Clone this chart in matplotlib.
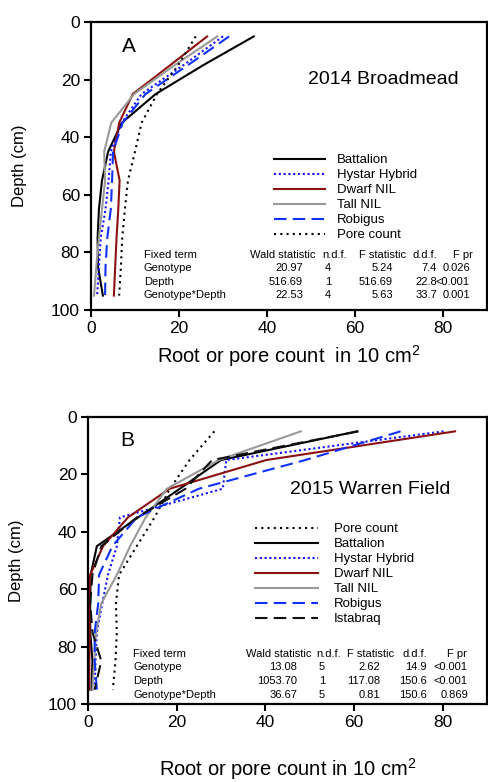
import matplotlib
matplotlib.use("Agg")
import matplotlib.pyplot as plt

plt.rcParams["font.family"] = ["Liberation Sans", "DejaVu Sans"]
plt.rcParams["mathtext.fontset"] = "custom"
plt.rcParams["mathtext.rm"] = "Liberation Sans"

# sampling depths (cm), same for both sites
DEPTH = [5, 15, 25, 35, 45, 55, 65, 75, 85, 95]

# panel A, 2014 Broadmead
A_BATTALION = [37.0, 25.5, 14.7, 7.0, 3.9, 2.5, 1.8, 1.5, 1.6, 2.7]
A_HYSTAR = [30.0, 21.0, 11.5, 7.0, 4.5, 4.0, 3.3, 2.2, 1.8, 1.4]
A_DWARF = [26.4, 18.0, 9.5, 6.4, 5.2, 6.5, 6.2, 5.8, 5.5, 5.2]
A_TALL = [28.7, 19.0, 9.8, 4.6, 3.0, 3.2, 2.5, 1.8, 1.2, 0.7]
A_ROBIGUS = [31.4, 22.0, 12.4, 7.2, 5.0, 4.8, 4.5, 3.7, 3.3, 3.2]
A_PORE = [23.8, 19.8, 15.0, 11.5, 10.0, 8.4, 7.7, 7.1, 6.8, 6.4]

# panel B, 2015 Warren Field
B_PORE = [28.5, 22.9, 18.5, 15.0, 11.0, 7.0, 6.3, 6.5, 6.2, 5.6]
B_BATTALION = [60.7, 30.0, 20.7, 11.3, 2.0, 0.6, 0.5, 0.5, 1.0, 0.8]
B_HYSTAR = [80.2, 31.2, 30.4, 7.2, 6.5, 4.5, 3.2, 2.0, 1.7, 1.5]
B_DWARF = [82.8, 40.2, 18.4, 9.0, 3.4, 0.5, 0.3, 0.4, 0.3, 0.3]
B_TALL = [48.0, 29.5, 17.8, 13.0, 9.5, 6.5, 3.0, 1.8, 1.4, 1.0]
B_ROBIGUS = [70.5, 49.0, 25.0, 11.0, 5.5, 2.5, 2.3, 1.5, 1.5, 2.0]
B_ISTABRAQ = [61.0, 28.0, 22.0, 11.0, 3.0, 1.0, 0.5, 1.0, 3.0, 1.5]

# Wald tables
TBL_HEAD = ["Fixed term", "Wald statistic", "n.d.f.", "F statistic", "d.d.f.", "F pr"]
TERMS = ["Genotype", "Depth", "Genotype*Depth"]
A_WALD = ["20.97", "516.69", "22.53"]
A_NDF = ["4", "1", "4"]
A_FSTAT = ["5.24", "516.69", "5.63"]
A_DDF = ["7.4", "22.8", "33.7"]
A_FPR = ["0.026", "<0.001", "0.001"]
B_WALD = ["13.08", "1053.70", "36.67"]
B_NDF = ["5", "1", "5"]
B_FSTAT = ["2.62", "117.08", "0.81"]
B_DDF = ["14.9", "150.6", "150.6"]
B_FPR = ["<0.001", "<0.001", "0.869"]

STY = {
    "Battalion": dict(color="black", ls="-"),
    "Hystar Hybrid": dict(color="#1010ff", ls=(0, (1, 1.3))),
    "Dwarf NIL": dict(color="#8b1010", ls="-"),
    "Tall NIL": dict(color="#999999", ls="-"),
    "Robigus": dict(color="#1030ff", ls=(0, (6, 3))),
    "Istabraq": dict(color="#111111", ls=(0, (6, 3))),
    "Pore count": dict(color="black", ls=(0, (1, 2))),
}

W, H = 488, 782
fig = plt.figure(figsize=(W / 100, H / 100), dpi=100)


def fx(px):
    return px / W


def fy(py):
    return 1 - py / H


def panel(left, top, bottom):
    ax = fig.add_axes([fx(left), fy(bottom), fx(487) - fx(left), fy(top) - fy(bottom)])
    ax.set_xlim(0, 90); ax.set_ylim(100, 0)
    ax.set_xticks([0, 20, 40, 60, 80]); ax.set_yticks([0, 20, 40, 60, 80, 100])
    ax.tick_params(direction="out", length=5, width=1.5, labelsize=12.5, pad=3)
    for s in ax.spines.values():
        s.set_linewidth(1.6)
    ax.set_ylabel("Depth (cm)", fontsize=12, labelpad=17)
    return ax


def table(xs, ys, wald, ndf, fst, ddf, fpr, hx):
    fs = 8
    fig.text(fx(xs[0]), fy(ys[0]), TBL_HEAD[0], fontsize=fs, va="center")
    for t, x, ha in zip(TBL_HEAD[1:], hx, ["right", "center", "right", "right", "right"]):
        fig.text(fx(x), fy(ys[0]), t, fontsize=fs, va="center", ha=ha)
    for i, term in enumerate(TERMS):
        y = fy(ys[i + 1])
        fig.text(fx(xs[0]), y, term, fontsize=fs, va="center")
        for col, x, ha in zip([wald, ndf, fst, ddf, fpr], xs[1:], ["right", "center", "right", "right", "right"]):
            fig.text(fx(x), y, col[i], fontsize=fs, va="center", ha=ha)


# ---- panel A
axA = panel(91, 22, 310)
for name, vals in [("Battalion", A_BATTALION), ("Hystar Hybrid", A_HYSTAR), ("Dwarf NIL", A_DWARF),
                   ("Tall NIL", A_TALL), ("Robigus", A_ROBIGUS), ("Pore count", A_PORE)]:
    axA.plot(vals, DEPTH, lw=1.5, label=name, **STY[name])
axA.set_xlabel("Root or pore count  in 10 cm$^{2}$", fontsize=14.5, labelpad=5)
axA.text(fx(122), fy(46), "A", transform=fig.transFigure, fontsize=15, va="center")
axA.text(fx(383), fy(80), "2014 Broadmead", transform=fig.transFigure, fontsize=14, va="center", ha="center")
axA.legend(loc="upper left", bbox_to_anchor=(fx(274), fy(154)), bbox_transform=fig.transFigure,
           frameon=False, fontsize=9.5, handlelength=3.9, handletextpad=0.9, labelspacing=0.21,
           borderpad=0, borderaxespad=0)
table([144, 303, 328, 393, 437, 470], [255, 268, 282, 295],
      A_WALD, A_NDF, A_FSTAT, A_DDF, A_FPR, [316, 335, 406, 437, 473])

# ---- panel B
axB = panel(88, 417, 704)
for name, vals in [("Pore count", B_PORE), ("Battalion", B_BATTALION), ("Hystar Hybrid", B_HYSTAR),
                   ("Dwarf NIL", B_DWARF), ("Tall NIL", B_TALL), ("Robigus", B_ROBIGUS),
                   ("Istabraq", B_ISTABRAQ)]:
    axB.plot(vals, DEPTH, lw=1.5, label=name, **STY[name])
axB.set_xlabel("Root or pore count in 10 cm$^{2}$", fontsize=14.5, labelpad=19)
axB.text(fx(120), fy(440), "B", transform=fig.transFigure, fontsize=15, va="center")
axB.text(fx(370), fy(490), "2015 Warren Field", transform=fig.transFigure, fontsize=14, va="center", ha="center")
axB.legend(loc="upper left", bbox_to_anchor=(fx(255), fy(523)), bbox_transform=fig.transFigure,
           frameon=False, fontsize=9.5, handlelength=4.8, handletextpad=1.2, labelspacing=0.21,
           borderpad=0, borderaxespad=0)
table([133, 297, 322, 380, 427, 468], [654, 667, 681, 695],
      B_WALD, B_NDF, B_FSTAT, B_DDF, B_FPR, [312, 329, 394, 427, 467])

fig.savefig("out.png", dpi=100, facecolor="white")
